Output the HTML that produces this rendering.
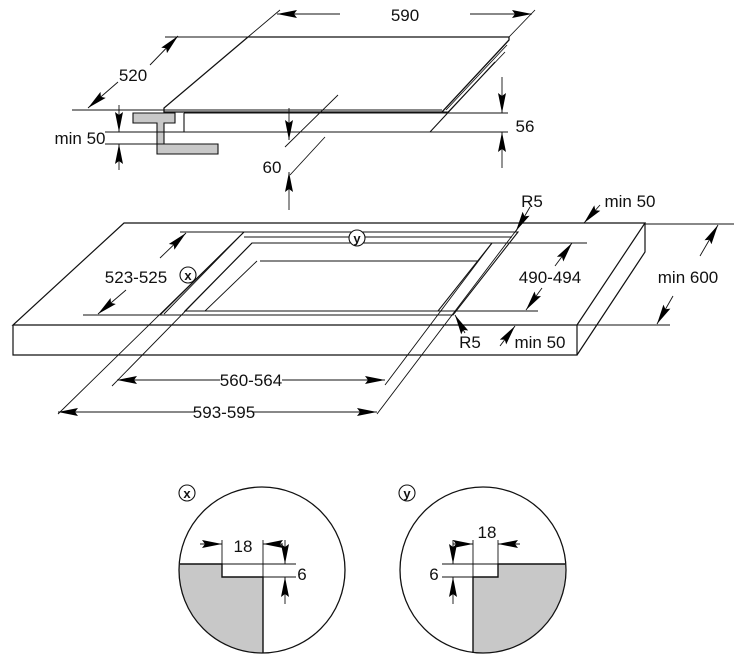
<!DOCTYPE html>
<html><head><meta charset="utf-8"><style>
html,body{margin:0;padding:0;background:#fff;}
svg{display:block;}
text{font-family:"Liberation Sans Narrow","Liberation Sans",sans-serif;font-size:17px;fill:#111;}
</style></head><body>
<svg width="734" height="660" viewBox="0 0 734 660" xmlns="http://www.w3.org/2000/svg">
<defs>
<marker id="a" viewBox="0 0 20 10" refX="20" refY="5" markerWidth="20" markerHeight="10" markerUnits="userSpaceOnUse" orient="auto">
<path d="M0,1 L20,5 L0,9 L3,5 Z" fill="#000"/>
</marker>
</defs>
<g fill="none" stroke="#111" stroke-width="0.9">
<!-- HOB -->
<path d="M248,37 L509,37 L509,40 L442,112 L164,112 L164,108 Z" stroke-width="1.3" fill="#fff"/>
<path d="M164,110 L442,110" />
<path d="M442,112 L448,112 L505,52" />
<path d="M446,110 L507,45" />
<path d="M184,113 L184,132 L430,132 L495,62" stroke-width="1.1"/>
<path d="M184,113 L448,113"/>
<!-- bracket -->
<path d="M133,113 L175,113 L175,123 L164,123 L164,144 L218,144 L218,154 L157,154 L157,123 L133,123 Z" fill="#c8c8c8" stroke-width="1.1"/>
<!-- 590 -->
<path d="M248,37 L280,10 M509,37 L535,10"/>
<path d="M340,14 L277,14" marker-end="url(#a)"/>
<path d="M470,14 L532,14" marker-end="url(#a)"/>
<!-- 520 -->
<path d="M165,37 L248,37 M72,110 L164,110"/>
<path d="M150,65 L178,36" marker-end="url(#a)"/>
<path d="M118,82 L88,108" marker-end="url(#a)"/>
<!-- min 50 -->
<path d="M105,132 L184,132 M105,144 L164,144"/>
<path d="M119,105 L119,132" marker-end="url(#a)"/>
<path d="M119,170 L119,144" marker-end="url(#a)"/>
<!-- 60 -->
<path d="M285,147 L338,95 M290,175 L325,137"/>
<path d="M289,108 L289,140" marker-end="url(#a)"/>
<path d="M289,210 L289,172" marker-end="url(#a)"/>
<!-- 56 -->
<path d="M448,113 L508,113 M430,132 L508,132"/>
<path d="M502,77 L502,113" marker-end="url(#a)"/>
<path d="M502,168 L502,132" marker-end="url(#a)"/>

<!-- COUNTERTOP -->
<path d="M124,223 L645,223 L577,325 L13,325 Z" stroke-width="1.2"/>
<path d="M13,325 L13,355 L577,355 L577,325 M577,355 L645,252 L645,223" stroke-width="1.2"/>
<!-- cutout -->
<path d="M244,232 L518,232 L453,315 L160,315 Z" stroke-width="1.1"/>
<path d="M244,237 L512,237 M239,237 L164,314"/>
<path d="M252,243 L492,243 L438,311 L185,311 Z" stroke-width="1.1"/>
<path d="M260,261 L478,261 M257,261 L205,311"/>
<!-- 523-525 -->
<path d="M180,232 L244,232 M83,315 L160,315"/>
<path d="M160,258 L186,233" marker-end="url(#a)"/>
<path d="M126,290 L98,314" marker-end="url(#a)"/>
<!-- 490-494 -->
<path d="M492,243 L587,243 M438,311 L538,311"/>
<path d="M555,266 L572,243" marker-end="url(#a)"/>
<path d="M542,288 L526,310" marker-end="url(#a)"/>
<!-- min 600 -->
<path d="M645,224 L734,224 M577,325 L670,325"/>
<path d="M700,256 L718,225" marker-end="url(#a)"/>
<path d="M673,296 L657,324" marker-end="url(#a)"/>
<!-- R5 / min 50 -->
<path d="M530,207 L516,231" marker-end="url(#a)"/>
<path d="M600,205 L584,223" marker-end="url(#a)"/>
<path d="M465,333 L455,315" marker-end="url(#a)"/>
<path d="M500,346 L515,326" marker-end="url(#a)"/>
<!-- extension lines down -->
<path d="M58,414 L244,232 M112,386 L252,243 M377,414 L518,228 M385,385 L492,243"/>
<!-- 560-564 -->
<path d="M220,380 L117,380" marker-end="url(#a)"/>
<path d="M282,380 L385,380" marker-end="url(#a)"/>
<!-- 593-595 -->
<path d="M195,412 L58,412" marker-end="url(#a)"/>
<path d="M252,412 L377,412" marker-end="url(#a)"/>

<!-- DETAIL X -->
<path d="M179,564 L222,564 L222,577 L263,577 L263,653 A83,83 0 0 1 179,564 Z" fill="#c8c8c8" stroke="none"/>
<circle cx="262" cy="570" r="83" stroke-width="1.3" fill="none"/>
<path d="M180,564 L222,564 L222,577 L263,577 L263,653" stroke-width="1.4"/>
<path d="M222,540 L222,564 M263,540 L263,577 M222,564 L296,564 M263,577 L296,577"/>
<path d="M200,544 L222,544" marker-end="url(#a)"/>
<path d="M283,544 L263,544" marker-end="url(#a)"/>
<path d="M285,540 L285,564" marker-end="url(#a)"/>
<path d="M285,604 L285,577" marker-end="url(#a)"/>
<!-- DETAIL Y -->
<path d="M565,564 L498,564 L498,577 L473,577 L473,653 A83,83 0 0 0 565,564 Z" fill="#c8c8c8" stroke="none"/>
<circle cx="483" cy="570" r="83" stroke-width="1.3" fill="none"/>
<path d="M565,564 L498,564 L498,577 L473,577 L473,653" stroke-width="1.4"/>
<path d="M473,540 L473,577 M498,540 L498,564 M442,564 L498,564 M442,577 L473,577"/>
<path d="M453,544 L473,544" marker-end="url(#a)"/>
<path d="M520,544 L498,544" marker-end="url(#a)"/>
<path d="M453,540 L453,564" marker-end="url(#a)"/>
<path d="M453,604 L453,577" marker-end="url(#a)"/>
<!-- label circles -->
<circle cx="357" cy="238" r="8" stroke-width="1.1" fill="#fff"/>
<circle cx="188" cy="275" r="8" stroke-width="1.1" fill="#fff"/>
<circle cx="187" cy="493" r="8" stroke-width="1.1" fill="#fff"/>
<circle cx="407" cy="493" r="8" stroke-width="1.1" fill="#fff"/>
</g>
<g>
<rect x="388" y="5" width="34" height="18" fill="#fff"/>
<text x="405" y="21" text-anchor="middle">590</text>
<text x="133" y="81" text-anchor="middle">520</text>
<text x="80" y="144" text-anchor="middle">min 50</text>
<text x="272" y="173" text-anchor="middle">60</text>
<text x="525" y="132" text-anchor="middle">56</text>
<text x="532" y="207" text-anchor="middle">R5</text>
<text x="630" y="207" text-anchor="middle">min 50</text>
<text x="136" y="283" text-anchor="middle">523-525</text>
<text x="550" y="283" text-anchor="middle">490-494</text>
<text x="688" y="283" text-anchor="middle">min 600</text>
<text x="470" y="348" text-anchor="middle">R5</text>
<text x="540" y="348" text-anchor="middle">min 50</text>
<rect x="222" y="370" width="58" height="20" fill="#fff"/>
<text x="251" y="386" text-anchor="middle">560-564</text>
<rect x="196" y="402" width="56" height="20" fill="#fff"/>
<text x="224" y="418" text-anchor="middle">593-595</text>
<text x="243" y="552" text-anchor="middle">18</text>
<text x="302" y="580" text-anchor="middle">6</text>
<text x="487" y="538" text-anchor="middle">18</text>
<text x="434" y="580" text-anchor="middle">6</text>
<text x="357" y="243" text-anchor="middle" style="font-size:13px;font-weight:bold">y</text>
<text x="188" y="280" text-anchor="middle" style="font-size:13px;font-weight:bold">x</text>
<text x="187" y="498" text-anchor="middle" style="font-size:13px;font-weight:bold">x</text>
<text x="407" y="498" text-anchor="middle" style="font-size:13px;font-weight:bold">y</text>
</g>
</svg>
</body></html>
